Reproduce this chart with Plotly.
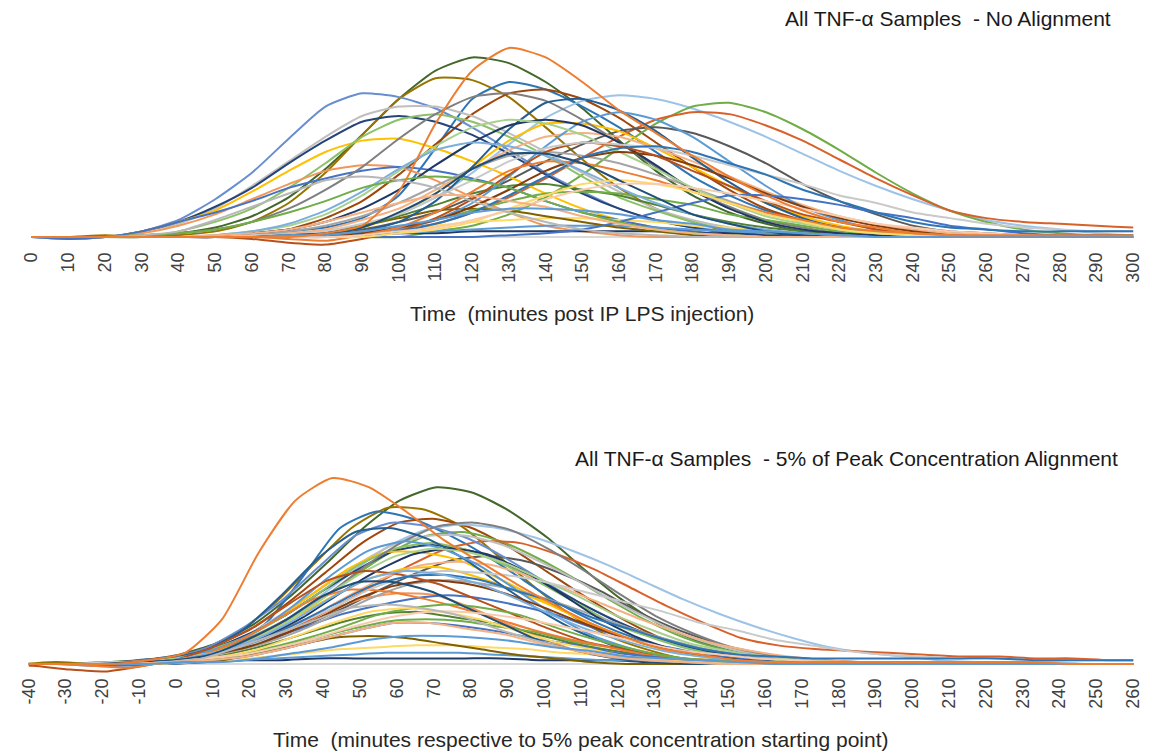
import plotly.graph_objects as go

# Sampling grid (minutes post IP LPS injection); the top panel shows 0-300
minutes = [0, 10, 20, 30, 40, 50, 60, 70, 80, 90, 100, 110, 120, 130, 140, 150,
           160, 170, 180, 190, 200, 210, 220, 230, 240, 250, 260, 270, 280, 290, 300,
           310, 320, 330, 340, 350, 360]

# TNF-alpha concentration per sample (relative units), one value per grid minute
s01 = [0,0,0,0,0,0,0,0,2,6,24,60,88,100,95,82,67,55,43,32,22,14,8,5,2,1,1,1,1,1,1,1,1,0,0,0,0]
s02 = [0,0,0,1,2,5,11,21,36,54,73,88,95,92,82,68,51,35,22,13,7,3,1,0,0,0,0,0,0,0,0,0,0,0,0,0,0]
s03 = [0,0,1,0,1,3,8,18,34,54,73,84,83,74,58,41,26,15,8,3,1,0,0,0,0,0,0,0,0,0,0,0,0,0,0,0,0]
s04 = [0,0,0,0,0,0,1,3,5,10,22,47,73,82,78,69,58,45,32,22,14,8,4,2,1,0,0,0,0,0,0,0,0,0,0,0,0]
s05 = [0,0,0,0,0,0,2,4,10,19,33,49,65,76,78,73,63,50,37,25,15,9,5,2,1,0,0,0,0,0,0,0,0,0,0,0,0]
s06 = [0,0,0,0,0,0,0,1,3,6,12,21,34,49,63,72,75,73,68,61,53,44,35,27,20,14,9,6,4,2,1,1,1,0,0,0,0]
s07 = [0,0,0,0,0,0,0,0,0,0,0,3,6,12,21,33,47,60,69,71,66,57,46,34,23,14,8,4,2,1,1,1,1,0,0,0,0]
s08 = [0,0,0,0,0,0,0,0,0,2,4,7,13,21,31,42,53,62,66,65,59,51,41,31,22,14,10,8,7,6,5,4,4,3,3,2,2]
s09 = [0,0,0,0,0,0,0,0,2,4,8,13,21,30,40,49,56,58,55,48,39,28,19,12,6,3,2,1,0,0,0,0,0,0,0,0,0]
s10 = [0,-1,0,3,9,20,34,52,69,76,74,68,58,46,34,24,15,9,5,3,1,0,0,0,0,0,0,0,0,0,0,0,0,0,0,0,0]
s11 = [0,0,0,3,7,15,27,40,53,64,69,69,64,55,45,34,24,15,9,5,3,1,0,0,0,0,0,0,0,0,0,0,0,0,0,0,0]
s12 = [0,0,0,3,8,16,26,39,51,61,64,61,54,44,33,23,15,9,5,2,1,0,0,0,0,0,0,0,0,0,0,0,0,0,0,0,0]
s13 = [0,0,0,3,8,14,24,35,45,51,52,47,40,32,23,15,9,5,3,1,0,0,0,0,0,0,0,0,0,0,0,0,0,0,0,0,0]
s14 = [0,0,0,0,0,0,0,0,2,5,12,23,37,51,60,60,56,47,37,27,18,11,6,3,1,0,0,0,0,0,0,0,0,0,0,0,0]
s15 = [0,0,0,0,3,8,15,26,39,53,62,65,61,53,43,32,21,14,8,4,2,1,0,0,0,0,0,0,0,0,0,0,0,0,0,0,0]
s16 = [0,0,0,2,6,12,20,28,35,38,37,30,21,13,6,3,1,0,0,0,0,0,0,0,0,0,0,0,0,0,0,0,0,0,0,0,0]
s17 = [0,-1,0,3,8,13,19,26,31,35,37,35,31,26,19,13,9,5,3,1,0,0,0,0,0,0,0,0,0,0,0,0,0,0,0,0,0]
s18 = [0,0,0,0,2,4,8,15,25,37,52,65,74,76,72,62,50,37,25,16,9,5,2,1,0,0,0,0,0,0,0,0,0,0,0,0,0]
s19 = [0,0,0,0,0,0,0,0,0,1,2,2,3,3,3,3,3,3,2,2,2,1,1,0,0,0,0,0,0,0,0,0,0,0,0,0,0]
s20 = [0,0,0,0,0,0,0,0,0,1,2,3,4,5,6,6,6,5,4,3,2,2,1,1,0,0,0,0,0,0,0,0,0,0,0,0,0]
s21 = [0,0,0,0,0,0,0,0,1,2,4,6,8,9,10,10,9,8,6,5,3,2,1,0,0,0,0,0,0,0,0,0,0,0,0,0,0]
s22 = [0,0,0,0,0,0,0,1,2,6,10,14,15,14,11,8,5,3,1,0,0,0,0,0,0,0,0,0,0,0,0,0,0,0,0,0,0]
s23 = [0,0,0,0,0,0,0,1,2,6,11,17,23,27,28,25,22,17,12,8,5,3,1,1,0,0,0,0,0,0,0,0,0,0,0,0,0]
s24 = [0,0,0,0,0,0,0,0,1,2,5,9,14,19,23,24,23,20,17,12,9,6,3,2,1,0,0,0,0,0,0,0,0,0,0,0,0]
s25 = [0,0,0,0,0,0,1,2,4,9,15,25,36,46,53,55,53,47,40,32,24,17,11,7,4,2,1,0,0,0,0,0,0,0,0,0,0]
s26 = [0,0,0,0,0,0,1,3,6,11,18,27,36,43,45,43,39,33,26,19,13,8,5,3,1,0,0,0,0,0,0,0,0,0,0,0,0]
s27 = [0,0,0,0,0,0,0,0,1,3,8,19,37,57,71,73,67,56,42,29,18,10,5,2,1,0,0,0,0,0,0,0,0,0,0,0,0]
s28 = [0,0,0,0,0,0,0,0,0,1,4,9,18,32,48,61,66,62,53,40,27,16,9,4,2,1,0,0,0,0,0,0,0,0,0,0,0]
s29 = [0,0,0,0,0,0,2,4,8,15,25,38,50,59,62,59,50,38,25,15,8,4,2,1,0,0,0,0,0,0,0,0,0,0,0,0,0]
s30 = [0,0,0,0,0,1,3,6,12,22,35,48,58,62,60,54,45,36,26,18,11,7,4,2,1,0,0,0,0,0,0,0,0,0,0,0,0]
s31 = [0,0,0,0,0,0,0,0,1,2,5,9,16,25,35,42,45,43,38,31,23,16,10,6,3,1,0,0,0,0,0,0,0,0,0,0,0]
s32 = [0,0,0,0,0,0,-1,-3,-4,-1,3,10,20,33,45,50,48,43,35,27,19,12,8,4,2,1,0,0,0,0,0,0,0,0,0,0,0]
s33 = [0,0,0,0,0,0,0,-1,-2,1,5,13,24,35,40,39,35,30,24,18,13,9,5,3,2,1,0,0,0,0,0,0,0,0,0,0,0]
s34 = [0,0,0,0,0,0,0,0,0,0,0,0,0,1,2,4,8,13,18,22,22,20,17,13,10,6,4,2,1,1,1,1,1,1,0,0,0]
s35 = [0,0,0,0,0,0,1,1,3,7,12,21,30,40,47,50,49,47,43,38,33,28,22,18,13,10,7,5,4,3,3,2,2,2,2,1,1]
s36 = [0,0,0,0,0,0,0,0,0,1,3,7,13,22,32,42,47,48,45,39,33,25,19,13,8,5,4,3,3,3,3,3,3,2,2,2,2]
s37 = [0,0,0,0,0,1,3,7,14,24,36,46,50,48,43,35,26,18,12,7,4,2,1,0,0,0,0,0,0,0,0,0,0,0,0,0,0]
s38 = [0,0,0,1,2,4,8,13,19,26,30,32,30,26,19,13,8,4,2,1,0,0,0,0,0,0,0,0,0,0,0,0,0,0,0,0,0]
s39 = [0,0,0,0,0,0,0,0,0,0,2,4,8,15,22,28,30,28,24,18,12,8,4,2,1,0,0,0,0,0,0,0,0,0,0,0,0]
s40 = [0,0,0,0,0,0,0,1,2,5,13,23,36,44,44,39,30,21,12,7,3,1,0,0,0,0,0,0,0,0,0,0,0,0,0,0,0]
s41 = [0,0,0,0,0,0,0,0,0,1,3,5,9,14,20,25,28,28,26,23,19,15,11,7,5,3,2,1,0,0,0,0,0,0,0,0,0]
s42 = [0,0,0,1,3,9,16,23,30,32,30,26,19,13,8,4,2,1,0,0,0,0,0,0,0,0,0,0,0,0,0,0,0,0,0,0,0]
s43 = [0,0,0,0,0,1,2,4,8,13,18,22,22,19,16,11,7,4,2,1,0,0,0,0,0,0,0,0,0,0,0,0,0,0,0,0,0]
s44 = [0,0,0,0,0,0,0,1,1,3,6,9,13,15,15,14,12,9,7,4,3,2,1,0,0,0,0,0,0,0,0,0,0,0,0,0,0]

samples = [s02, s03, s04, s05, s06, s07, s08, s09, s10, s11, s12, s13, s14, s15,
           s16, s17, s18, s19, s20, s21, s22, s23, s24, s25, s26, s27, s28, s29,
           s30, s31, s32, s33, s34, s35, s36, s37, s38, s39, s40, s41, s42, s43,
           s44, s01]

colors = ["#43682B", "#997300", "#2E75B6", "#9E480E", "#9DC3E6", "#70AD47",
          "#D8612A", "#595959", "#698ED0", "#BFBFBF", "#264478", "#FFC000",
          "#FFC000", "#8CC168", "#F1975A", "#4472C4", "#7F7F7F", "#1F3864",
          "#5B9BD5", "#FFD966", "#7F6000", "#548235", "#70AD47", "#F4B183",
          "#A5A5A5", "#255E91", "#5B9BD5", "#203864", "#A9D18E", "#843C0C",
          "#B8501C", "#ED7D31", "#4472C4", "#C9C9C9", "#2E75B6", "#7CAFDD",
          "#70AD47", "#FFD966", "#1F4E79", "#F8CBAD", "#B7B7B7", "#F4B183",
          "#5B9BD5", "#ED7D31"]

top_ticks = list(range(0, 301, 10))
bottom_ticks = list(range(-40, 261, 10))


def onset_minute(values, frac=0.05):
    """Time at which a sample first reaches 5% of its peak concentration."""
    thr = frac * max(values)
    for i in range(1, len(values)):
        if values[i] >= thr and values[i - 1] < thr:
            v0, v1 = values[i - 1], values[i]
            return minutes[i - 1] + (minutes[i] - minutes[i - 1]) * (thr - v0) / (v1 - v0)
    return minutes[0]


W, H = 1155, 755
FONT = "Liberation Sans, Arial, sans-serif"

fig = go.Figure()
for vals, col in zip(samples, colors):
    line = dict(color=col, width=2, shape="spline", smoothing=0.6)
    fig.add_trace(go.Scatter(x=minutes, y=vals, mode="lines", line=line,
                             xaxis="x", yaxis="y", hoverinfo="skip", showlegend=False))
    t0 = onset_minute(vals)
    fig.add_trace(go.Scatter(x=[t - t0 for t in minutes], y=vals, mode="lines", line=line,
                             xaxis="x2", yaxis="y2", hoverinfo="skip", showlegend=False))

tickfont = dict(family=FONT, size=18, color="#404040")
common_x = dict(showgrid=False, zeroline=False, showline=False, ticks="",
                tickangle=-90, tickfont=tickfont, fixedrange=True)
common_y = dict(showgrid=False, showticklabels=False, ticks="", showline=False,
                zeroline=True, zerolinecolor="#D9D9D9", zerolinewidth=1.5, fixedrange=True)

fig.update_layout(
    width=W, height=H,
    margin=dict(l=0, r=0, t=0, b=0),
    paper_bgcolor="white", plot_bgcolor="white",
    xaxis=dict(domain=[22 / W, 1143 / W], range=[0, 300], anchor="y",
               tickvals=top_ticks, ticktext=[str(v) for v in top_ticks], **common_x),
    yaxis=dict(domain=[1 - 248 / H, 1 - 30 / H], range=[-5.8, 109.5], anchor="x", **common_y),
    xaxis2=dict(domain=[19 / W, 1143 / W], range=[-40, 260], anchor="y2",
                tickvals=bottom_ticks, ticktext=[str(v) for v in bottom_ticks], **common_x),
    yaxis2=dict(domain=[1 - 674 / H, 1 - 455 / H], range=[-5.4, 112.4], anchor="x2", **common_y),
)

title_font = dict(family=FONT, size=21, color="#1A1A1A")
axis_font = dict(family=FONT, size=21, color="#262626")
fig.add_annotation(text="All TNF-\u03b1 Samples\u00a0 - No Alignment", xref="paper", yref="paper",
                   x=1122 / W, y=1 - 18 / H, xanchor="right", yanchor="middle",
                   showarrow=False, font=title_font)
fig.add_annotation(text="Time\u00a0 (minutes post IP LPS injection)", xref="paper", yref="paper",
                   x=582 / W, y=1 - 313 / H, xanchor="center", yanchor="middle",
                   showarrow=False, font=axis_font)
fig.add_annotation(text="All TNF-\u03b1 Samples\u00a0 - 5% of Peak Concentration Alignment",
                   xref="paper", yref="paper", x=1130 / W, y=1 - 459 / H,
                   xanchor="right", yanchor="middle", showarrow=False, font=title_font)
fig.add_annotation(text="Time\u00a0 (minutes respective to 5% peak concentration starting point)",
                   xref="paper", yref="paper", x=581 / W, y=2 / H,
                   xanchor="center", yanchor="bottom", showarrow=False, font=axis_font)

fig.write_html("out.html")
